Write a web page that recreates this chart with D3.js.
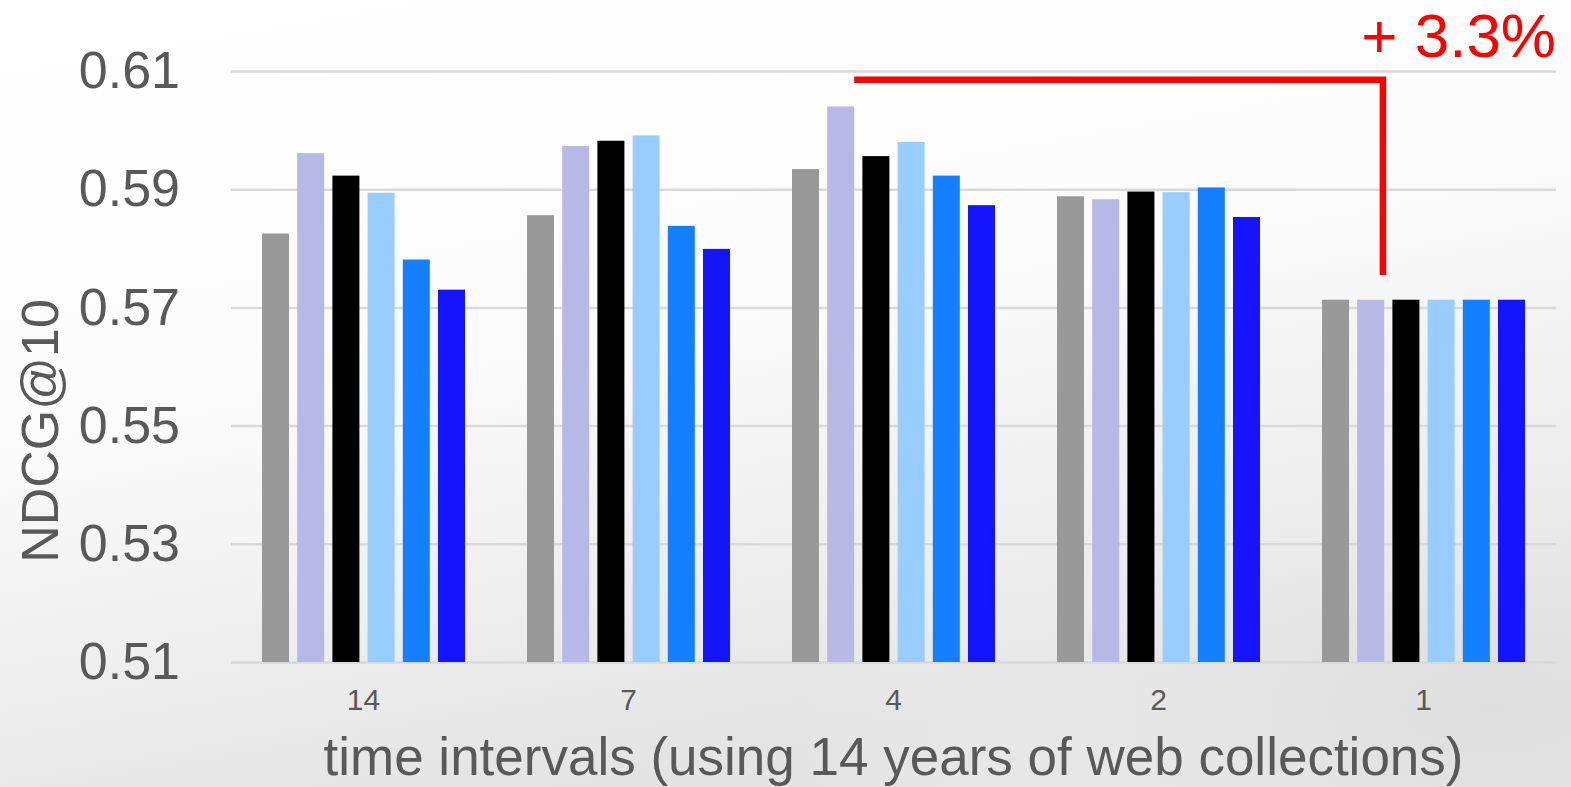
<!DOCTYPE html>
<html>
<head>
<meta charset="utf-8">
<script src="https://cdn.jsdelivr.net/npm/d3@7"></script>
<style>
  html, body { margin: 0; padding: 0; background: #ffffff; }
  svg { display: block; }
</style>
</head>
<body>
<svg id="chart" width="1571" height="787"></svg>
<script>
// ---- Data ----
const categories = ["14", "7", "4", "2", "1"];
const seriesNames = ["s1", "s2", "s3", "s4", "s5", "s6"];
const seriesColors = ["#999999", "#b8b8e6", "#000000", "#99ccff", "#147fff", "#1414ff"];
const s1 = [0.5825, 0.5856, 0.5934, 0.5888, 0.5713];
const s2 = [0.5961, 0.5973, 0.6040, 0.5883, 0.5713];
const s3 = [0.5923, 0.5982, 0.5956, 0.5896, 0.5713];
const s4 = [0.5894, 0.5991, 0.5980, 0.5895, 0.5713];
const s5 = [0.5781, 0.5838, 0.5923, 0.5903, 0.5713];
const s6 = [0.5730, 0.5799, 0.5873, 0.5853, 0.5713];
const yTicks = [0.51, 0.53, 0.55, 0.57, 0.59, 0.61];
const yTitle = "NDCG@10";
const xTitle = "time intervals (using 14 years of web collections)";
const annotation = "+ 3.3%";
const annoFrom = { cat: "4", series: 1 };   // bracket start (over this bar)
const annoTo = { cat: "1", value: 0.5755 }; // bracket drop end

const series = [s1, s2, s3, s4, s5, s6];

// ---- Layout ----
const svg = d3.select("#chart");
const W = 1571, H = 787;
const mLeft = 231, mRight = 1556, mTop = 71, mBottom = 662;
const textColor = "#595959";
const font = "'Liberation Sans', Arial, sans-serif";

// background
const defs = svg.append("defs");
const bg = defs.append("linearGradient").attr("id", "bg").attr("x1", 0).attr("y1", 0).attr("x2", 0.35).attr("y2", 1);
bg.append("stop").attr("offset", "0%").attr("stop-color", "#ffffff");
bg.append("stop").attr("offset", "50%").attr("stop-color", "#fbfbfb");
bg.append("stop").attr("offset", "100%").attr("stop-color", "#e4e4e4");
svg.append("rect").attr("width", W).attr("height", H).attr("fill", "url(#bg)");
const rg = defs.append("radialGradient").attr("id", "rg").attr("cx", 0.95).attr("cy", 0.9).attr("r", 0.45);
rg.append("stop").attr("offset", "0%").attr("stop-color", "#d8d8d8").attr("stop-opacity", 0.6);
rg.append("stop").attr("offset", "100%").attr("stop-color", "#ffffff").attr("stop-opacity", 0);
svg.append("rect").attr("width", W).attr("height", H).attr("fill", "url(#rg)");

// scales
const x0 = d3.scaleBand().domain(categories).range([mLeft, mRight]).paddingInner(0.234).paddingOuter(0.117);
const x1 = d3.scaleBand().domain(d3.range(seriesNames.length)).range([0, x0.bandwidth()]).paddingInner(0.233).paddingOuter(0);
const y = d3.scaleLinear().domain([0.51, 0.61]).range([mBottom, mTop]);

// y axis with gridlines
const yAxis = svg.append("g")
  .attr("transform", `translate(${mLeft},0)`)
  .call(d3.axisLeft(y).tickValues(yTicks).tickFormat(d3.format(".2f")).tickSize(-(mRight - mLeft)).tickPadding(51));
yAxis.select(".domain").remove();
yAxis.selectAll(".tick line").attr("stroke", "#d9d9d9").attr("stroke-width", 2.5);
yAxis.selectAll(".tick text").attr("fill", textColor).attr("font-size", 52).attr("font-family", font);

// bars
const groups = svg.append("g").selectAll("g").data(categories).join("g")
  .attr("transform", d => `translate(${x0(d)},0)`);
groups.selectAll("rect")
  .data((c, ci) => series.map((s, si) => ({ si, v: s[ci] })))
  .join("rect")
  .attr("x", d => x1(d.si))
  .attr("width", x1.bandwidth())
  .attr("y", d => y(d.v))
  .attr("height", d => y(0.51) - y(d.v))
  .attr("fill", d => seriesColors[d.si]);

// x axis
const xAxis = svg.append("g")
  .attr("transform", `translate(0,${mBottom})`)
  .call(d3.axisBottom(x0).tickSize(0).tickPadding(27));
xAxis.select(".domain").remove();
xAxis.selectAll(".tick text").attr("fill", textColor).attr("font-size", 30).attr("font-family", font);

// titles
svg.append("text")
  .attr("x", (mLeft + mRight) / 2).attr("y", 775)
  .attr("text-anchor", "middle")
  .attr("fill", textColor).attr("font-size", 53).attr("font-family", font)
  .text(xTitle);
svg.append("text")
  .attr("transform", `translate(58,${431}) rotate(-90)`)
  .attr("text-anchor", "middle")
  .attr("fill", textColor).attr("font-size", 52).attr("font-family", font)
  .text(yTitle);

// annotation bracket
const bx0 = x0(annoFrom.cat) + x1(annoFrom.series) + x1.bandwidth();
const bx1 = x0(annoTo.cat) + x0.bandwidth() * 0.30;
const by0 = y(0.6085);
const by1 = y(annoTo.value);
svg.append("path")
  .attr("d", `M${bx0},${by0} H${bx1} V${by1}`)
  .attr("fill", "none").attr("stroke", "#ff0000").attr("stroke-width", 6.5)
  .attr("stroke-linejoin", "miter");
svg.append("text")
  .attr("x", 1556).attr("y", 57)
  .attr("text-anchor", "end")
  .attr("fill", "#ff0000").attr("font-size", 62).attr("font-family", font)
  .text(annotation);
</script>
</body>
</html>
